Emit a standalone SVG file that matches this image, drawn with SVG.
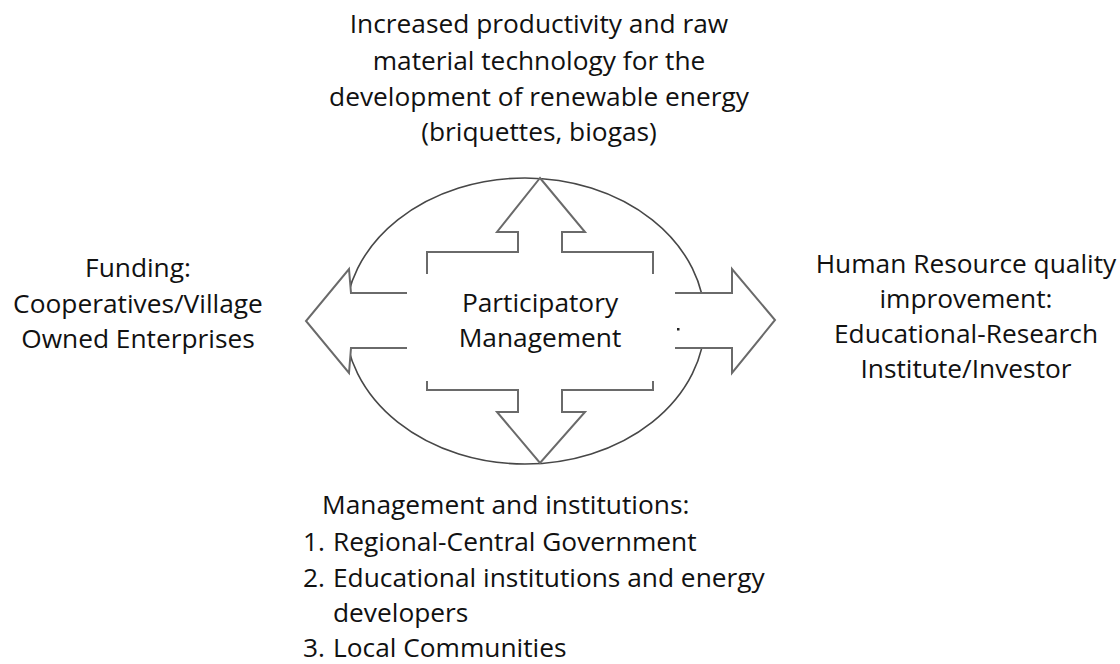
<svg xmlns="http://www.w3.org/2000/svg" width="1120" height="664" viewBox="0 0 1120 664">
<style>
text{font-family:"Open Sans","Noto Sans","Liberation Sans",sans-serif;font-size:26.3px;fill:#111}
.c{text-anchor:middle}
.arrow{fill:#fff;stroke:#6a6a6a;stroke-width:2;stroke-linejoin:miter}
.ell{fill:none;stroke:#474747;stroke-width:1.6}
</style>
<rect width="1120" height="664" fill="#fff"/>
<g id="cycle"><ellipse class="ell" cx="525" cy="321" rx="180" ry="143"/></g>
<g id="connectors">
<polygon class="arrow" points="540,178 585,232 562,232 562,252 653,252 653,293 732,293 732,269 775,320 732,373 732,348 653,348 653,390 562,390 562,412 585,412 540,463 497,412 518,412 518,390 427,390 427,348 351,348 349,373 306,321 349,269 351,293 427,293 427,252 518,252 518,232 497,232"/>
</g>
<g id="center">
<rect x="407" y="274" width="268" height="107" fill="#fff"/>
<rect x="677" y="328" width="2.5" height="2.5" fill="#222"/>
<text class="c" x="540" y="312">Participatory</text>
<text class="c" x="540" y="347">Management</text>
</g>
<g id="top">
<text class="c" x="539" y="33">Increased productivity and raw</text>
<text class="c" x="539" y="70">material technology for the</text>
<text class="c" x="539" y="106">development of renewable energy</text>
<text class="c" x="539" y="141">(briquettes, biogas)</text>
</g>
<g id="left">
<text class="c" x="138" y="277">Funding:</text>
<text class="c" x="138" y="313">Cooperatives/Village</text>
<text class="c" x="138" y="348">Owned Enterprises</text>
</g>
<g id="right">
<text class="c" x="966" y="273">Human Resource quality</text>
<text class="c" x="966" y="308">improvement:</text>
<text class="c" x="966" y="343">Educational-Research</text>
<text class="c" x="966" y="378">Institute/Investor</text>
</g>
<g id="bottom">
<text x="322" y="514">Management and institutions:</text>
<text x="303" y="551">1.</text><text x="333" y="551">Regional-Central Government</text>
<text x="303" y="587">2.</text><text x="333" y="587">Educational institutions and energy</text>
<text x="333" y="622">developers</text>
<text x="303" y="657">3.</text><text x="333" y="657">Local Communities</text>
</g>
</svg>
